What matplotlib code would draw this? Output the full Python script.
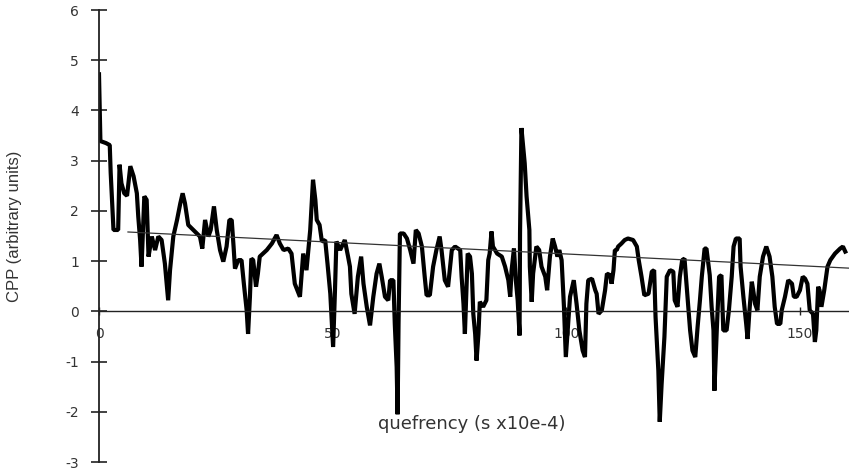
import matplotlib
matplotlib.use('Agg')
import matplotlib.pyplot as plt

# cepstral peak prominence trace, quefrency in s x10e-4
quefrency = [
    0.0, 0.3, 1.5, 2.3, 2.5, 2.8, 3.1, 4.1, 4.4, 4.8, 5.4, 6.0, 6.7, 7.4, 8.1, 8.4, 8.8, 9.1,
    9.7, 10.2, 10.6, 11.3, 12.0, 12.7, 13.4, 14.1, 14.8, 15.2, 15.9, 16.7, 17.4, 17.9, 18.4,
    19.1, 20.5, 21.6, 22.1, 22.7, 23.4, 23.9, 24.6, 25.2, 25.9, 26.6,
    27.3, 27.9, 28.4, 28.8, 29.1, 29.8, 30.5, 31.0, 31.6, 31.9, 32.3, 32.6, 33.0, 33.6, 34.0,
    34.4, 35.9, 37.0, 38.0, 38.7, 39.5, 40.5, 41.2, 41.9, 43.0, 43.7, 44.4, 44.8, 45.2, 45.8,
    46.3, 46.6, 47.2, 47.7, 48.4, 48.9, 49.5, 50.1, 50.5, 50.8, 51.6,
    52.6, 53.3, 53.7, 54.0, 54.7, 55.4, 56.1, 56.6, 57.3, 58.0, 58.7, 59.4, 60.0, 60.5, 61.2,
    61.9, 62.3, 63.0, 63.3, 63.7, 63.9, 64.1, 64.4, 65.2, 65.9, 66.6, 67.3, 67.8, 68.4, 69.1,
    69.7, 70.1, 70.8, 71.5, 72.2, 72.9, 73.3, 74.0, 74.7, 75.5, 76.2, 77.3, 77.6, 78.0, 78.3,
    78.9,
    79.4, 79.8, 80.1, 80.5, 80.8, 81.2, 81.5, 82.2, 82.9, 83.3, 83.6, 84.0, 84.3, 85.2, 86.2,
    86.9, 87.6, 88.0, 88.3, 88.8, 89.2, 89.6, 90.0, 90.1, 90.4, 91.1, 91.5, 92.1, 92.2, 92.6,
    92.9, 93.6, 94.2, 94.7, 95.5, 95.9, 96.5, 97.1, 97.6, 98.1, 98.5, 99.0, 99.5, 99.9, 100.4,
    100.8, 101.6, 102.2, 102.8, 103.5, 104.0, 104.3, 104.7, 105.5, 106.2,
    106.5, 106.9, 107.6, 108.3, 108.7, 109.4, 109.7, 110.1, 110.4, 110.8, 111.1, 111.8, 112.5,
    113.2, 114.3, 115.1, 115.5, 116.1, 116.7, 117.6, 118.3, 118.8, 119.1, 119.7, 120.0, 120.4,
    121.0, 121.5, 122.2, 122.9, 123.2, 123.8, 124.3, 124.8, 125.3, 125.6, 126.0, 126.5, 127.0,
    127.6, 128.1, 128.6, 129.0, 129.6, 130.0, 130.7, 131.1, 131.5, 131.7, 132.2, 132.7, 133.2,
    133.6, 134.3, 134.8, 135.4, 135.8, 136.3, 137.1, 137.3, 137.9, 138.5, 138.8, 139.2, 139.7,
    140.0, 140.4, 140.9, 141.4, 142.1, 142.8, 143.5, 144.1, 144.6, 145.1, 145.8, 146.1, 146.8,
    147.5, 148.3, 148.7, 149.3, 150.0, 150.6, 151.1, 151.6, 152.1, 152.8, 153.2, 153.5, 153.9,
    154.2, 154.6, 155.2, 155.6, 155.9, 156.5, 157.5, 158.6, 159.2, 159.7,
]
cpp = [
    4.72, 3.39, 3.35, 3.31, 2.76, 2.18, 1.62, 1.62, 2.92, 2.55, 2.35, 2.30, 2.89, 2.69, 2.35,
    1.89, 1.42, 0.89, 2.29, 2.22, 1.09, 1.49, 1.22, 1.49, 1.42, 0.95, 0.22, 0.82, 1.49, 1.82,
    2.15, 2.35, 2.15, 1.72, 1.59, 1.49, 1.25, 1.82, 1.49, 1.62, 2.09, 1.62, 1.22, 0.99,
    1.29, 1.82, 1.82, 1.29, 0.85, 1.02, 1.02, 0.55, 0.02, -0.45, 0.29, 1.05, 1.02, 0.49, 0.75,
    1.09, 1.22, 1.35, 1.52, 1.35, 1.22, 1.25, 1.15, 0.55, 0.29, 1.15, 0.82, 1.22, 1.62, 2.62,
    2.22, 1.82, 1.72, 1.39, 1.42, 0.95, 0.35, -0.71, 0.42, 1.39, 1.22,
    1.42, 1.09, 0.89, 0.35, -0.05, 0.69, 1.09, 0.55, 0.09, -0.28, 0.29, 0.75, 0.95, 0.69, 0.29,
    0.22, 0.62, 0.62, -0.25, -1.11, -2.05, -0.25, 1.55, 1.55, 1.45, 1.22, 0.95, 1.62, 1.55, 1.29,
    0.69, 0.32, 0.32, 0.89, 1.22, 1.49, 1.22, 0.62, 0.49, 1.22, 1.29, 1.22, 0.69, 0.15, -0.45,
    1.15,
    1.09, 0.75, -0.05, -0.45, -0.98, -0.45, 0.19, 0.09, 0.22, 1.02, 1.15, 1.59, 1.29, 1.15, 1.09,
    0.89, 0.62, 0.29, 0.82, 1.25, 0.62, 0.22, -0.48, 1.55, 3.65, 2.95, 2.29, 1.62, 0.89, 0.19,
    0.75, 1.29, 1.22, 0.89, 0.69, 0.42, 1.09, 1.45, 1.29, 1.09, 1.22, 1.02, 0.09, -0.91, -0.25,
    0.29, 0.62, 0.15, -0.38, -0.78, -0.91, 0.15, 0.62, 0.65, 0.42,
    0.35, -0.05, 0.02, 0.42, 0.75, 0.72, 0.55, 0.82, 1.22, 1.22, 1.29, 1.35, 1.42,
    1.45, 1.42, 1.29, 1.02, 0.69, 0.32, 0.35, 0.79, 0.82, -0.11, -1.18, -2.20, -1.45,
    -0.51, 0.69, 0.82, 0.79, 0.22, 0.09, 0.69, 1.02, 1.05, 0.69, 0.22, -0.38, -0.78,
    -0.91, -0.31, 0.22, 0.69, 1.25, 1.25, 0.72, 0.09, -0.38, -1.58, -0.38, 0.69, 0.72,
    -0.38, -0.38, 0.02, 0.69, 1.29, 1.45, 1.45, 0.89, 0.29, -0.25, -0.55, 0.02, 0.59,
    0.42, 0.15, 0.02, 0.69, 1.09, 1.29, 1.09, 0.69, 0.09, -0.25, -0.25, 0.02, 0.29,
    0.62, 0.55, 0.29, 0.29, 0.42, 0.69, 0.65, 0.55, 0.02, -0.05, -0.61, -0.38, 0.49,
    0.42, 0.09, 0.42, 0.69, 0.89, 1.02, 1.15, 1.25, 1.29, 1.19,
]

# linear trend fitted over the trace
trend_q = [6.2, 160.5]
trend_cpp = [1.58, 0.86]

x_ticks = [0, 50, 100, 150]
y_ticks = [-3, -2, -1, 0, 1, 2, 3, 4, 5, 6]

plt.rcParams['axes.unicode_minus'] = False

fig = plt.figure(figsize=(8.49, 4.71), dpi=100)
ax = fig.add_axes([99 / 849, 9 / 471, 750 / 849, 452 / 471])

ax.plot(quefrency, cpp, color='black', linewidth=3.0, solid_joinstyle='bevel')
ax.plot(trend_q, trend_cpp, color='#333333', linewidth=0.9)

ax.set_xlim(0, 160.5)
ax.set_ylim(-3, 6)

# axes cross at the origin, no frame
ax.spines['top'].set_visible(False)
ax.spines['right'].set_visible(False)
ax.spines['bottom'].set_position(('data', 0))
ax.spines['left'].set_color('#222222')
ax.spines['left'].set_linewidth(1.3)
ax.spines['bottom'].set_color('#222222')
ax.spines['bottom'].set_linewidth(1.0)

ax.set_xticks(x_ticks)
ax.set_yticks(y_ticks)
ax.set_xticklabels([str(t) for t in x_ticks], fontfamily='DejaVu Sans', fontsize=10, color='#333333')
ax.set_yticklabels([str(t) for t in y_ticks], fontfamily='DejaVu Sans', fontsize=10, color='#333333')
ax.tick_params(axis='y', direction='inout', length=11, width=1.2, color='#222222', pad=9)
ax.tick_params(axis='x', direction='inout', length=6, width=1.0, color='#222222', pad=8)

ax.set_xlabel('quefrency (s x10e-4)', fontfamily='DejaVu Sans', fontsize=13, color='#333333')
ax.xaxis.set_label_coords(0.497, 0.104)
ax.set_ylabel('CPP (arbitrary units)', fontfamily='Liberation Sans', fontsize=12, color='#333333')
ax.yaxis.set_label_coords(-0.103, 0.522)

fig.savefig('out.png', dpi=100)
